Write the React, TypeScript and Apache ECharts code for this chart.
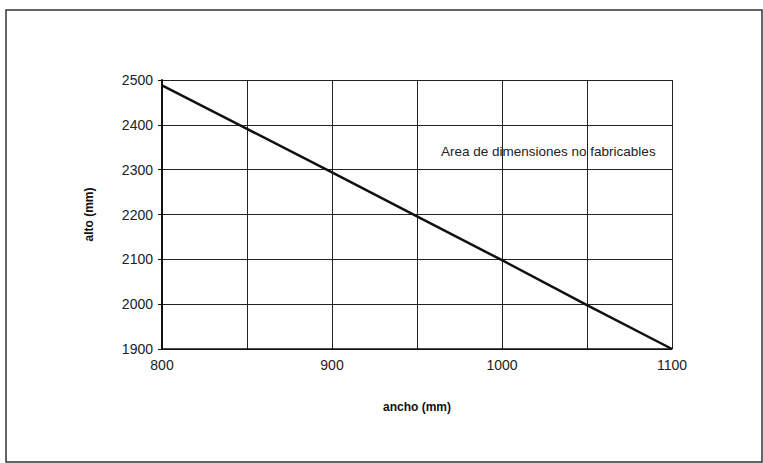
import React, { useEffect, useRef } from "react";
import * as echarts from "echarts";

// Width (ancho) and height (alto) limit, in millimetres
const anchoMm = [800, 850, 900, 950, 1000, 1050, 1100];
const altoMm = [2488, 2391, 2294, 2196, 2098, 1998, 1900];

const xTickLabels = ["800", "900", "1000", "1100"];
const yTickLabels = ["1900", "2000", "2100", "2200", "2300", "2400", "2500"];

const xTitle = "ancho (mm)";
const yTitle = "alto (mm)";
const areaNote = "Area de dimensiones no fabricables";

const FONT = "'Liberation Sans', Arial, Helvetica, sans-serif";

export default function App() {
  const ref = useRef<HTMLDivElement>(null);

  useEffect(() => {
    if (!ref.current) return;
    const chart = echarts.init(ref.current, null, { renderer: "svg" });
    chart.setOption({
      animation: false,
      backgroundColor: "#ffffff",
      textStyle: { fontFamily: FONT },
      grid: { left: 162, top: 80, right: 91, bottom: 114 },
      xAxis: {
        type: "value",
        min: 800,
        max: 1100,
        interval: 50,
        name: xTitle,
        nameLocation: "middle",
        nameGap: 52,
        nameTextStyle: { fontFamily: FONT, fontSize: 12, fontWeight: "bold", color: "#111" },
        axisLine: { show: true, lineStyle: { color: "#111", width: 1.5 } },
        axisTick: { show: false },
        axisLabel: {
          margin: 9,
          fontFamily: FONT,
          fontSize: 14,
          color: "#222",
          formatter: (v: number) => (xTickLabels.includes(String(v)) ? String(v) : ""),
        },
        splitLine: { show: true, lineStyle: { color: "#222", width: 1 } },
      },
      yAxis: {
        type: "value",
        min: 1900,
        max: 2500,
        interval: 100,
        name: yTitle,
        nameLocation: "middle",
        nameGap: 67,
        nameRotate: 90,
        nameTextStyle: { fontFamily: FONT, fontSize: 12, fontWeight: "bold", color: "#111" },
        axisLine: { show: true, lineStyle: { color: "#111", width: 2 } },
        axisTick: { show: true, inside: false, length: 4, lineStyle: { color: "#111" } },
        axisLabel: {
          margin: 9,
          fontFamily: FONT,
          fontSize: 14,
          color: "#222",
          formatter: (v: number) => (yTickLabels.includes(String(v)) ? String(v) : ""),
        },
        splitLine: { show: true, lineStyle: { color: "#222", width: 1 } },
      },
      series: [
        {
          type: "line",
          data: anchoMm.map((a, i) => [a, altoMm[i]]),
          showSymbol: false,
          symbol: "none",
          lineStyle: { color: "#111", width: 2.5 },
          z: 5,
        },
      ],
      graphic: [
        {
          type: "rect",
          shape: { x: 6, y: 10, width: 756, height: 452 },
          style: { fill: "none", stroke: "#333", lineWidth: 1.5 },
          silent: true,
        },
        {
          type: "text",
          x: 441,
          y: 151,
          style: {
            text: areaNote,
            font: `13.5px ${FONT}`,
            fill: "#222",
            verticalAlign: "middle",
          },
          z: 10,
        },
      ],
    });
    return () => chart.dispose();
  }, []);

  return (
    <div
      ref={ref}
      style={{ position: "absolute", left: 0, top: 0, width: 763, height: 463 }}
    />
  );
}
